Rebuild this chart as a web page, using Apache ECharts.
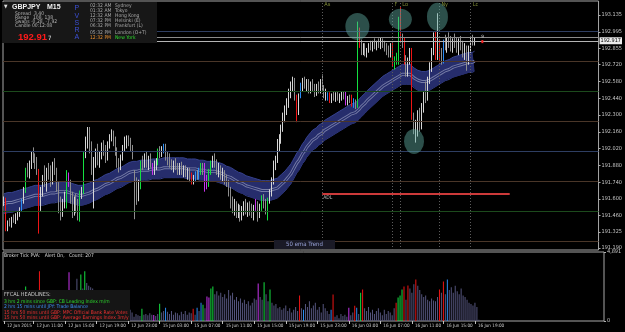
<!DOCTYPE html>
<html>
<head>
<meta charset="utf-8">
<script src="https://cdn.jsdelivr.net/npm/echarts@6/dist/echarts.min.js"></script>
<style>
  html, body { margin: 0; background: #000; }
  #chart { width: 625px; height: 332px; }
</style>
</head>
<body>
<div id="chart"></div>
<script>
// GBPJPY M15, bar 0 = 12 Jun 2015 07:15 (server time), last bar = 16 Jun 19:30
const opens = [
  191.56,191.59,191.36,191.40,191.38,191.43,191.41,191.46,191.48,191.51,
  191.58,191.67,191.83,191.80,191.89,191.96,191.93,191.88,191.82,191.53,
  191.66,191.76,191.72,191.84,191.79,191.74,191.88,191.83,191.70,191.55,
  191.50,191.57,191.58,191.80,191.74,191.60,191.50,191.58,191.52,191.48,
  191.65,191.66,191.97,192.08,192.15,192.03,191.85,191.90,191.98,191.92,
  191.96,192.04,192.00,191.95,192.06,192.12,192.15,192.08,192.00,191.90,
  191.86,191.94,192.02,192.08,192.10,192.06,192.03,191.80,191.72,191.62,
  191.70,191.90,191.88,191.95,191.90,191.92,191.88,191.82,191.86,191.90,
  192.00,191.97,192.00,192.04,191.95,191.92,191.90,191.86,191.89,191.86,
  191.84,191.87,191.82,191.85,191.80,191.83,191.80,191.74,191.76,191.81,
  191.78,191.84,191.88,191.88,191.76,191.72,191.83,191.90,191.92,191.90,
  191.84,191.86,191.79,191.82,191.76,191.74,191.66,191.56,191.52,191.55,
  191.48,191.52,191.45,191.50,191.54,191.49,191.55,191.50,191.47,191.58,
  191.52,191.46,191.54,191.61,191.56,191.48,191.59,191.65,191.75,191.88,
  191.93,192.07,192.10,192.20,192.28,192.35,192.40,192.48,192.54,192.58,
  192.45,192.32,192.46,192.55,192.58,192.54,192.57,192.51,192.55,192.53,
  192.48,192.54,192.50,192.57,192.52,192.47,192.44,192.47,192.42,192.46,
  192.44,192.47,192.44,192.46,192.48,192.48,192.40,192.44,192.45,192.39,
  192.41,192.38,193.01,192.90,192.84,192.87,192.81,192.84,192.88,192.86,
  192.90,192.87,192.91,192.88,192.92,192.89,192.86,192.84,192.81,192.88,
  192.72,192.76,192.76,193.10,192.93,192.93,192.74,192.66,192.76,192.84,
  192.28,192.18,192.22,192.30,192.20,192.37,192.46,192.44,192.60,192.70,
  192.84,192.97,192.79,192.90,192.77,192.76,192.90,192.88,192.93,192.90,
  192.85,192.92,192.89,192.86,192.90,192.87,192.82,192.86,192.75,192.86,
  192.93,192.90
];
const highs = [
  191.62,191.61,191.42,191.44,191.45,191.47,191.48,191.50,191.53,191.60,
  191.70,191.86,191.90,191.92,192.00,192.03,191.98,191.95,191.85,191.70,
  191.80,191.88,191.86,191.90,191.88,191.91,191.94,191.86,191.74,191.62,
  191.60,191.66,191.84,191.82,191.76,191.66,191.62,191.64,191.60,191.67,
  191.70,191.99,192.12,192.20,192.20,192.08,191.95,192.02,192.06,192.00,
  192.07,192.09,192.05,192.08,192.14,192.18,192.17,192.12,192.03,191.94,
  191.97,192.05,192.12,192.13,192.13,192.11,192.05,191.84,191.78,191.76,
  191.92,191.96,191.98,192.00,191.96,191.98,191.90,191.92,191.94,192.02,
  192.04,192.04,192.06,192.06,192.00,191.98,191.93,191.92,191.94,191.90,
  191.90,191.91,191.88,191.88,191.86,191.86,191.82,191.80,191.83,191.84,
  191.86,191.90,191.90,191.90,191.80,191.85,191.92,191.96,191.98,191.93,
  191.90,191.88,191.86,191.84,191.80,191.76,191.70,191.62,191.60,191.58,
  191.56,191.55,191.54,191.58,191.60,191.57,191.58,191.56,191.55,191.60,
  191.58,191.56,191.63,191.64,191.60,191.61,191.68,191.78,191.92,191.96,
  192.10,192.14,192.22,192.32,192.38,192.44,192.52,192.58,192.62,192.61,
  192.47,192.48,192.57,192.61,192.62,192.60,192.60,192.58,192.60,192.56,
  192.56,192.58,192.60,192.64,192.55,192.52,192.49,192.49,192.48,192.50,
  192.49,192.50,192.48,192.50,192.50,192.50,192.46,192.47,192.47,192.44,
  192.43,193.08,193.03,192.93,192.90,192.90,192.86,192.90,192.92,192.92,
  192.94,192.92,192.94,192.95,192.94,192.92,192.90,192.88,192.90,192.90,
  192.79,192.82,193.12,193.20,192.98,192.95,192.80,192.78,192.86,192.86,
  192.32,192.26,192.34,192.36,192.40,192.50,192.58,192.62,192.74,192.86,
  192.99,193.00,193.15,192.93,192.86,192.93,192.97,192.95,192.99,192.96,
  192.94,192.98,192.95,192.94,192.96,192.92,192.90,192.88,192.88,192.95,
  192.97,192.95
];
const lows = [
  191.54,191.33,191.33,191.37,191.36,191.40,191.39,191.42,191.45,191.49,
  191.56,191.65,191.78,191.77,191.85,191.90,191.85,191.80,191.31,191.50,
  191.62,191.70,191.66,191.76,191.70,191.72,191.80,191.66,191.48,191.42,
  191.45,191.52,191.52,191.70,191.56,191.44,191.46,191.48,191.42,191.41,
  191.60,191.64,191.94,192.02,191.98,191.80,191.52,191.86,191.88,191.86,
  191.93,191.96,191.90,191.92,192.02,192.08,192.04,191.96,191.86,191.82,
  191.84,191.92,192.00,192.02,192.04,192.00,191.93,191.43,191.55,191.58,
  191.68,191.84,191.86,191.86,191.84,191.86,191.80,191.80,191.84,191.88,
  191.94,191.95,191.98,191.92,191.88,191.86,191.84,191.82,191.84,191.80,
  191.80,191.80,191.78,191.78,191.76,191.74,191.72,191.72,191.74,191.76,
  191.76,191.80,191.80,191.66,191.68,191.70,191.80,191.86,191.86,191.80,
  191.78,191.76,191.74,191.72,191.70,191.62,191.52,191.48,191.46,191.44,
  191.44,191.41,191.42,191.46,191.47,191.45,191.46,191.44,191.42,191.50,
  191.41,191.44,191.50,191.52,191.47,191.42,191.56,191.62,191.72,191.84,
  191.90,192.00,192.06,192.16,192.24,192.30,192.36,192.44,192.50,192.42,
  192.24,192.30,192.44,192.50,192.52,192.50,192.48,192.48,192.50,192.45,
  192.46,192.48,192.48,192.50,192.44,192.42,192.42,192.40,192.40,192.42,
  192.41,192.42,192.40,192.42,192.43,192.38,192.38,192.40,192.37,192.36,
  192.35,192.36,192.86,192.80,192.80,192.79,192.78,192.82,192.84,192.83,
  192.85,192.84,192.86,192.85,192.86,192.83,192.80,192.78,192.78,192.70,
  192.68,192.72,192.72,192.90,192.86,192.72,192.62,192.62,192.72,192.26,
  192.14,192.07,192.12,192.16,192.18,192.32,192.40,192.42,192.56,192.66,
  192.80,192.76,192.76,192.74,192.72,192.73,192.84,192.82,192.86,192.83,
  192.82,192.86,192.82,192.80,192.84,192.78,192.76,192.67,192.72,192.82,
  192.88,192.88
];
const closes = [
  191.59,191.36,191.40,191.38,191.43,191.41,191.46,191.48,191.50,191.58,
  191.67,191.83,191.80,191.89,191.96,191.93,191.88,191.84,191.53,191.66,
  191.76,191.72,191.84,191.79,191.74,191.88,191.83,191.70,191.55,191.50,
  191.57,191.58,191.82,191.74,191.60,191.50,191.58,191.52,191.48,191.65,
  191.67,191.97,192.08,192.15,192.03,191.85,191.90,191.98,191.92,191.96,
  192.04,192.00,191.95,192.06,192.12,192.15,192.08,192.00,191.90,191.86,
  191.94,192.02,192.08,192.10,192.06,192.03,191.96,191.72,191.62,191.70,
  191.90,191.88,191.95,191.90,191.92,191.88,191.82,191.86,191.90,192.00,
  191.97,192.01,192.04,191.95,191.92,191.90,191.86,191.89,191.86,191.84,
  191.87,191.82,191.85,191.80,191.83,191.77,191.74,191.78,191.81,191.78,
  191.84,191.88,191.84,191.70,191.72,191.83,191.90,191.92,191.90,191.84,
  191.86,191.79,191.82,191.76,191.74,191.66,191.56,191.52,191.55,191.48,
  191.52,191.45,191.50,191.54,191.49,191.55,191.50,191.47,191.52,191.52,
  191.46,191.54,191.61,191.56,191.50,191.59,191.65,191.75,191.88,191.93,
  192.07,192.10,192.20,192.28,192.35,192.40,192.48,192.54,192.58,192.45,
  192.32,192.46,192.55,192.58,192.54,192.57,192.51,192.55,192.53,192.48,
  192.54,192.50,192.57,192.52,192.47,192.49,192.47,192.42,192.46,192.44,
  192.47,192.44,192.46,192.48,192.45,192.40,192.44,192.42,192.39,192.41,
  192.38,193.01,192.90,192.84,192.87,192.81,192.84,192.88,192.86,192.90,
  192.87,192.91,192.88,192.92,192.89,192.86,192.84,192.81,192.88,192.72,
  192.76,192.80,193.09,192.93,192.92,192.74,192.66,192.76,192.84,192.28,
  192.18,192.22,192.30,192.20,192.37,192.46,192.44,192.60,192.70,192.84,
  192.97,192.79,192.90,192.77,192.76,192.90,192.88,192.93,192.90,192.85,
  192.92,192.89,192.86,192.90,192.87,192.82,192.86,192.75,192.86,192.93,
  192.90,192.92
];
// broker tick volume
const volumes = [
  1400,2100,900,800,1000,700,900,800,1000,1500,
  1300,2450,1600,1500,1700,1400,1300,1500,3530,1900,
  1600,1500,1700,1400,1300,1500,1400,1600,1900,1500,
  1400,1700,2100,3460,1900,2000,1800,3000,2200,3300,
  2300,3530,2700,2500,2400,2300,2000,1800,1700,1600,
  1500,1400,1300,1500,1400,1300,1500,1400,1200,1300,
  1100,1200,1000,1100,800,600,300,500,400,350,
  860,450,500,400,550,450,430,350,500,1220,
  600,700,940,650,500,700,450,600,550,400,
  650,500,700,450,600,550,860,450,940,700,
  1300,1150,900,1730,1660,2300,2450,1900,2100,1800,
  2000,1700,1900,1600,2200,1800,2000,1500,1700,1400,
  1600,1300,1500,1200,1400,1100,1300,1600,1500,2660,
  1700,1500,2740,1900,1400,2230,1300,1100,1200,900,
  1000,800,900,1100,700,900,600,800,1000,700,
  1800,900,790,1200,1000,1400,900,1100,1300,800,
  1000,600,1200,900,700,500,790,1870,300,400,
  200,500,350,450,300,940,400,600,1080,940,
  500,2000,2230,900,700,1000,600,800,500,700,
  900,600,400,800,500,700,600,400,900,1300,
  1660,1800,2230,2450,1500,2520,2300,2000,2600,2950,
  2500,2200,1900,1700,1800,1500,1400,1600,1450,1400,
  1700,2230,2000,2800,1900,2950,2200,2400,2000,2500,
  2100,1900,2300,1800,1700,1500,1300,1200,1100,1300,
  1000,80
];
// 50 ema trend line (centre of the band)
const ema50 = [
  191.56,191.56,191.57,191.57,191.57,191.58,191.58,191.58,191.59,191.59,
  191.60,191.60,191.61,191.61,191.62,191.62,191.63,191.63,191.63,191.63,
  191.63,191.64,191.64,191.64,191.65,191.65,191.65,191.66,191.66,191.66,
  191.66,191.66,191.66,191.66,191.65,191.65,191.64,191.64,191.63,191.63,
  191.63,191.63,191.64,191.64,191.65,191.66,191.67,191.67,191.68,191.69,
  191.70,191.71,191.72,191.72,191.73,191.74,191.75,191.76,191.77,191.78,
  191.78,191.79,191.80,191.81,191.82,191.82,191.83,191.83,191.83,191.84,
  191.84,191.84,191.84,191.84,191.84,191.85,191.85,191.85,191.85,191.85,
  191.85,191.86,191.86,191.86,191.86,191.86,191.86,191.86,191.86,191.86,
  191.86,191.86,191.86,191.86,191.85,191.85,191.85,191.85,191.85,191.85,
  191.84,191.84,191.84,191.84,191.83,191.83,191.83,191.83,191.83,191.83,
  191.82,191.81,191.81,191.80,191.79,191.78,191.78,191.77,191.76,191.75,
  191.74,191.73,191.73,191.72,191.71,191.71,191.70,191.69,191.69,191.68,
  191.68,191.67,191.67,191.67,191.67,191.67,191.67,191.67,191.68,191.68,
  191.69,191.70,191.72,191.73,191.75,191.77,191.79,191.81,191.84,191.87,
  191.90,191.92,191.95,191.98,192.00,192.03,192.05,192.07,192.09,192.10,
  192.11,192.13,192.14,192.15,192.17,192.18,192.19,192.20,192.21,192.22,
  192.23,192.24,192.25,192.26,192.27,192.28,192.29,192.30,192.31,192.31,
  192.32,192.33,192.35,192.37,192.38,192.40,192.42,192.43,192.45,192.46,
  192.48,192.49,192.51,192.52,192.54,192.55,192.56,192.57,192.58,192.59,
  192.60,192.61,192.62,192.63,192.64,192.64,192.64,192.64,192.64,192.63,
  192.61,192.60,192.59,192.58,192.58,192.58,192.58,192.58,192.59,192.60,
  192.61,192.62,192.63,192.64,192.65,192.66,192.67,192.68,192.68,192.69,
  192.70,192.70,192.71,192.71,192.72,192.72,192.73,192.73,192.74,192.74,
  192.74,192.75
];
// PVSRA class per bar (R/G climax bear/bull, M/B above-average bear/bull)
const pvsra = {
  1:'R', 9:'B', 11:'G', 18:'R', 32:'G', 33:'M', 39:'G', 41:'G', 70:'G', 76:'M',
  79:'G', 82:'B', 96:'R', 98:'B', 100:'B', 101:'G', 103:'M', 104:'M', 105:'G', 106:'G',
  129:'M', 132:'G', 135:'G', 150:'R', 152:'B', 166:'B', 167:'R', 175:'M', 178:'R', 179:'B',
  181:'G', 182:'R', 199:'R', 200:'G', 201:'G', 202:'G', 203:'R', 205:'R', 209:'R', 221:'R',
  223:'R', 225:'B'
};
const priceTicks = [191.19, 191.325, 191.46, 191.6, 191.74, 191.88, 192.02, 192.16,
  192.3, 192.44, 192.58, 192.72, 192.855, 192.995, 193.135];
const volTicks = [0, 4891];
const timeTickIdx = [0, 15, 31, 47, 63, 79, 95, 111, 127, 143, 159, 175, 191, 207, 223, 239];
const timeTicks = ['12 Jun 2015', '12 Jun 11:00', '12 Jun 15:00', '12 Jun 19:00', '12 Jun 23:00',
  '15 Jun 03:00', '15 Jun 07:00', '15 Jun 11:00', '15 Jun 15:00', '15 Jun 19:00', '15 Jun 23:00',
  '16 Jun 03:00', '16 Jun 07:00', '16 Jun 11:00', '16 Jun 15:00', '16 Jun 19:00'];
const levels = [193.00, 192.75, 192.50, 192.25, 192.00, 191.75, 191.50, 191.25];
const sessions = [['As', 163], ['F', 199], ['Lo', 203], ['Ny', 223], ['Lc', 239]];
const marked = [[181, 193.04], [203, 193.10], [222, 193.12], [210, 192.08]]; // circled highs/low
const bid = 192.917, ask = 192.951;
const adl = 191.64, adlFrom = 163, adlTo = 259;

const slots = 305;               // bar slots across the window (right part is chart shift)
const priceMin = 191.1733, priceMax = 193.2519;
const bandHalf = 0.083;
const font = "'Liberation Sans Narrow', 'DejaVu Sans Condensed', 'Liberation Sans', sans-serif";

const colors = { R: '#ee1414', G: '#14e040', B: '#2a8cf4', M: '#c834ee' };
const levelColor = v => (v % 1 === 0 ? '#2e3e62' : (Math.abs(v % 1 - 0.5) < 1e-6 ? '#1c4a1c' : '#4a3628'));

const cats = Array.from({ length: slots }, (_, i) => String(i));

const candleData = opens.map((o, i) => {
  const k = pvsra[i];
  const c = k ? colors[k] : (closes[i] >= o ? '#d6d6d6' : '#8e8e8e');
  return {
    value: [o, closes[i], lows[i], highs[i]],
    itemStyle: { color: c, color0: c, borderColor: c, borderColor0: c }
  };
});
const volData = volumes.map((v, i) => ({
  value: v, itemStyle: { color: pvsra[i] ? colors[pvsra[i]] : '#55557e' }
}));

const markLines = [
  ...levels.map(v => ({ yAxis: v, lineStyle: { color: levelColor(v), width: 1, type: 'solid' } })),
  { yAxis: ask, lineStyle: { color: '#8c8c8c', width: 1, type: 'solid' } },
  {
    yAxis: bid, lineStyle: { color: '#b4b4b4', width: 1, type: 'solid' },
    label: {
      show: true, position: 'end', distance: 1, formatter: bid.toFixed(3),
      color: '#000', backgroundColor: '#ececec', padding: [1, 1, 0, 1],
      fontSize: 5.5, fontFamily: font
    }
  },
  ...sessions.map(s => ({ xAxis: s[1], lineStyle: { color: '#5c5c5c', width: 1, type: [1, 2] } })),
  [
    {
      coord: [adlFrom, adl], lineStyle: { color: '#cc3a3a', width: 2, type: 'solid' },
      label: { show: true, formatter: 'ADL', position: 'insideStartBottom', distance: 1,
        color: '#b8b8b8', fontSize: 5, fontFamily: font }
    },
    { coord: [adlTo, adl] }
  ]
];

function txt(x, y, text, fill, size, extra) {
  return {
    type: 'text', x: x, y: y, z: 100,
    style: Object.assign({ text: text, fill: fill, font: size + 'px ' + font,
      align: 'left', verticalAlign: 'middle' }, extra || {})
  };
}

const graphics = [
  // info panel
  { type: 'rect', z: 90, shape: { x: 2, y: 2, width: 155, height: 41 }, style: { fill: '#171717' } },
  txt(4, 7, '\u25BC', '#e0e0e0', 5),
  txt(12, 7.5, 'GBPJPY', '#f0f0f0', 7, { font: "bold 7px 'Liberation Sans', sans-serif" }),
  txt(47, 7.5, 'M15', '#f0f0f0', 7, { font: "bold 7px 'Liberation Sans', sans-serif" }),
  txt(15, 13.3, 'Spread', '#b4b4b4', 5), txt(34, 13.3, '3.40', '#b4b4b4', 5),
  txt(15, 17.3, 'Range', '#b4b4b4', 5), txt(33, 17.3, '108, 138', '#b4b4b4', 5),
  txt(15, 21.3, 'Swaps', '#b4b4b4', 5), txt(31, 21.3, '-0.28, -7.92', '#b4b4b4', 5),
  txt(15, 25.3, 'Candle', '#b4b4b4', 5), txt(32, 25.3, '00:12:08', '#b4b4b4', 5),
  txt(18, 37.5, '192.91', '#ff1a1a', 9.5, { font: "bold 9.5px 'Liberation Sans', sans-serif" }),
  txt(48, 38, '7', '#e8e8e8', 6),
  ...['P', 'V', 'S', 'R', 'A'].map((l, i) => txt(74.5, 8.5 + i * 7.1, l, '#3c50d6', 7,
    { font: "7px 'Liberation Sans', sans-serif" })),
  ...[['02:32 AM', 'Sydney', 5.7], ['01:32 AM', 'Tokyo', 10.7], ['12:32 AM', 'Hong Kong', 15.7],
      ['07:32 PM', 'Helsinki (E)', 20.7], ['06:32 PM', 'Frankfurt (L)', 26],
      ['05:32 PM', 'London (O+T)', 32.7]].flatMap(r => [
    txt(90, r[2], r[0], '#a8a8a8', 5), txt(115, r[2], r[1], '#a8a8a8', 5)]),
  txt(90, 37.7, '12:32 PM', '#e89030', 5), txt(115, 37.7, 'New York', '#2edc2e', 5),
  // trend label
  { type: 'rect', z: 90, shape: { x: 274, y: 240, width: 61, height: 9 }, style: { fill: '#1a1a26' } },
  txt(304.5, 244.5, '50 ema Trend', '#98a2d8', 6, { align: 'center' }),
  // indicator window caption
  txt(4, 256, 'Broker Tick PVA:   Alert On,   Count: 207', '#dcdcdc', 5),
  // calendar headlines
  { type: 'rect', z: 90, shape: { x: 2, y: 290, width: 128, height: 31 }, style: { fill: '#151515' } },
  txt(4, 294.5, 'FFCAL HEADLINES:', '#c8c8c8', 5.5),
  txt(4, 301.5, '3 hrs 2 mins since GBP: CB Leading Index m/m', '#2cd82c', 5),
  txt(4, 307, '2 hrs 15 mins until JPY: Trade Balance', '#3c8ef2', 5),
  txt(4, 312.5, '15 hrs 50 mins until GBP: MPC Official Bank Rate Votes', '#f03030', 5),
  txt(4, 318, '15 hrs 50 mins until GBP: Average Earnings Index 3m/y', '#f03030', 5)
];

const chart = echarts.init(document.getElementById('chart'));
chart.setOption({
  backgroundColor: '#000',
  animation: false,
  textStyle: { fontFamily: font },
  grid: [
    { left: 3, right: 21, top: 1, height: 249, show: true, borderColor: '#a8a8a8', borderWidth: 1 },
    { left: 3, right: 21, top: 252, height: 69, show: true, borderColor: '#a8a8a8', borderWidth: 1 }
  ],
  xAxis: [
    { type: 'category', gridIndex: 0, data: cats, boundaryGap: true, show: false },
    {
      type: 'category', gridIndex: 1, data: cats, boundaryGap: true,
      axisLine: { show: false },
      axisTick: { show: true, alignWithLabel: true, length: 3, lineStyle: { color: '#c0c0c0' },
        interval: i => timeTickIdx.includes(i) },
      axisLabel: {
        interval: i => timeTickIdx.includes(i),
        formatter: (v, i) => timeTicks[timeTickIdx.indexOf(i)] || '',
        showMinLabel: true,
        align: 'left', padding: [0, 0, 0, 3], margin: 2,
        color: '#d0d0d0', fontSize: 4.6, fontFamily: font
      },
      splitLine: { show: false }
    }
  ],
  yAxis: [
    {
      type: 'value', gridIndex: 0, position: 'right', min: priceMin, max: priceMax,
      splitLine: { show: false }, axisLine: { show: false },
      axisTick: { show: true, length: 2, customValues: priceTicks, lineStyle: { color: '#b0b0b0' } },
      axisLabel: { customValues: priceTicks, formatter: v => v.toFixed(3), margin: 3,
        color: '#c8c8c8', fontSize: 5.5, fontFamily: font }
    },
    {
      type: 'value', gridIndex: 1, position: 'right', min: 0, max: 4891,
      splitLine: { show: false }, axisLine: { show: false },
      axisTick: { show: true, length: 2, customValues: volTicks, lineStyle: { color: '#b0b0b0' } },
      axisLabel: { customValues: volTicks, margin: 3, color: '#c8c8c8', fontSize: 5.5, fontFamily: font }
    }
  ],
  series: [
    {
      name: 'band low', type: 'line', xAxisIndex: 0, yAxisIndex: 0, z: 1,
      stack: 'band', symbol: 'none',
      data: ema50.map(v => +(v - bandHalf).toFixed(3)),
      lineStyle: { color: '#35418e', width: 1 },
      markLine: { silent: true, symbol: 'none', label: { show: false }, data: markLines }
    },
    {
      name: 'band', type: 'line', xAxisIndex: 0, yAxisIndex: 0, z: 2,
      stack: 'band', symbol: 'none',
      data: ema50.map(() => 2 * bandHalf),
      lineStyle: { color: '#35418e', width: 1 },
      areaStyle: { color: '#262d6c', opacity: 1 }
    },
    {
      name: '50 ema', type: 'line', xAxisIndex: 0, yAxisIndex: 0, z: 3, symbol: 'none',
      data: ema50, lineStyle: { color: '#767ca6', width: 3 }
    },
    {
      name: '50 ema core', type: 'line', xAxisIndex: 0, yAxisIndex: 0, z: 3, symbol: 'none',
      data: ema50, lineStyle: { color: '#262d6c', width: 1.2 }
    },
    {
      name: 'GBPJPY', type: 'candlestick', xAxisIndex: 0, yAxisIndex: 0, z: 4,
      barWidth: 1.3, data: candleData, itemStyle: { borderWidth: 1 }
    },
    {
      name: 'marks', type: 'scatter', xAxisIndex: 0, yAxisIndex: 0, z: 5,
      data: marked,
      symbolSize: (v, p) => [[24, 27], [23, 21], [21, 28], [20, 25]][p.dataIndex],
      itemStyle: { color: 'rgba(96,170,160,0.58)' }
    },
    {
      name: 'tick volume', type: 'bar', xAxisIndex: 1, yAxisIndex: 1, z: 2,
      barWidth: 1, data: volData
    }
  ],
  graphic: graphics
});

// session captions above the dotted lines, plus the bid marker after the last bar
const extra = sessions.map(s => {
  const px = chart.convertToPixel({ xAxisIndex: 0 }, s[1]);
  return txt(px + 2, 5, s[0], '#7f8c38', 5.5);
});
const mx = chart.convertToPixel({ xAxisIndex: 0 }, closes.length + 3);
const my = chart.convertToPixel({ yAxisIndex: 0 }, bid);
extra.push(txt(mx - 1, my - 4, '9', '#d8d8d8', 4.5));
extra.push({ type: 'rect', z: 100, shape: { x: mx - 1, y: my - 1, width: 2, height: 3 }, style: { fill: '#ff2020' } });
chart.setOption({ graphic: graphics.concat(extra) });
</script>
</body>
</html>
